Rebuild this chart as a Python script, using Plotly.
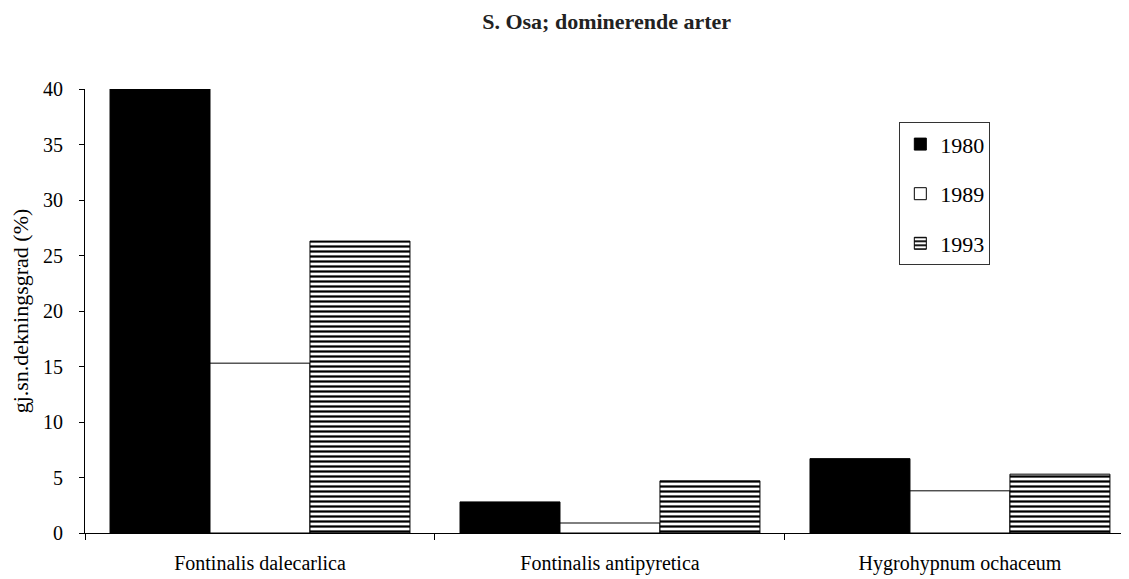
import plotly.graph_objects as go

categories = ["Fontinalis dalecarlica", "Fontinalis antipyretica", "Hygrohypnum ochaceum"]
years = ["1980", "1989", "1993"]
v1980 = [40.0, 2.8, 6.7]
v1989 = [15.3, 0.9, 3.8]
v1993 = [26.3, 4.7, 5.3]

FONT = "Times New Roman, Liberation Serif, DejaVu Serif, serif"

fig = go.Figure()
fig.add_trace(go.Bar(x=categories, y=v1980, name=years[0], legendgroup="a",
                     marker=dict(color="black", line=dict(color="black", width=1))))
fig.add_trace(go.Bar(x=categories, y=v1989, name=years[1], legendgroup="b",
                     marker=dict(color="white", line=dict(color="black", width=1))))
fig.add_trace(go.Bar(x=categories, y=v1993, name=years[2], legendgroup="c",
                     marker=dict(color="white", line=dict(color="black", width=1),
                                 pattern=dict(shape="-", fgcolor="black", bgcolor="white",
                                              size=5, solidity=0.45, fillmode="replace"))))

fig.update_layout(
    width=1121, height=571,
    paper_bgcolor="white", plot_bgcolor="white",
    margin=dict(l=77, r=0, t=81, b=46),
    barmode="group", bargap=0.143, bargroupgap=0,
    font=dict(family=FONT, color="black", size=18),
    title=dict(text="<b>S. Osa; dominerende arter</b>", x=0.534, xanchor="center",
               y=0.977, yanchor="middle", font=dict(family=FONT, size=22, color="#222")),
    legend=dict(x=0.78, y=0.925, xanchor="left", yanchor="top",
                bordercolor="#333", borderwidth=1, bgcolor="white",
                font=dict(family=FONT, size=22), tracegroupgap=18,
                itemwidth=30),
    showlegend=True,
)
fig.update_xaxes(range=[-0.5, 2.483], showline=True, linecolor="black", linewidth=1,
                 ticks="outside", ticklen=6, tickcolor="black", tickson="boundaries",
                 showgrid=False, tickfont=dict(family=FONT, size=20), ticklabelstandoff=12)
fig.update_yaxes(range=[0, 40], dtick=5, showline=True, linecolor="black", linewidth=1,
                 ticks="outside", ticklen=5, tickcolor="black", showgrid=False,
                 zeroline=False, tickfont=dict(family=FONT, size=20),
                 ticklabelstandoff=12,
                 title=dict(text="gj.sn.dekningsgrad (%)", font=dict(family=FONT, size=22),
                            standoff=8))

fig.write_html("out.html")
